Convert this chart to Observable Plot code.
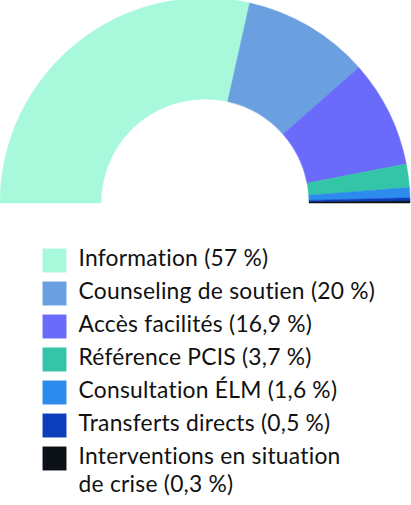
<!DOCTYPE html>
<html>
<head>
<meta charset="utf-8">
<script src="https://cdn.jsdelivr.net/npm/d3@7"></script>
<script src="https://cdn.jsdelivr.net/npm/@observablehq/plot@0.6"></script>
<style>
  html, body { margin: 0; padding: 0; background: #fff; }
  #chart svg { display: block; }
</style>
</head>
<body>
<div id="chart"></div>
<script>
const labels = [
  "Information (57\u202F%)",
  "Counseling de soutien (20\u202F%)",
  "Accès facilités (16,9\u202F%)",
  "Référence PCIS (3,7\u202F%)",
  "Consultation ÉLM (1,6\u202F%)",
  "Transferts directs (0,5\u202F%)",
  "Interventions en situation\nde crise (0,3\u202F%)"
];
const values = [57, 20, 16.9, 3.7, 1.6, 0.5, 0.3];
const colors = ["#a8f9dc", "#6a9fe0", "#6a6bfb", "#34c4a8", "#2c8bec", "#0d3fbd", "#0b1117"];

const data = labels.map((label, i) => ({label, value: values[i], color: colors[i]}));

const W = 411, H = 505;
const cx = 205, cy = 203, rOuter = 205, rInner = 104;

function donut() {
  const pie = d3.pie().value(d => d.value).sort(null)
    .startAngle(-Math.PI / 2).endAngle(Math.PI / 2);
  const arc = d3.arc().innerRadius(rInner).outerRadius(rOuter);
  const g = d3.create("svg:g").attr("transform", `translate(${cx},${cy})`);
  g.selectAll("path").data(pie(data)).join("path")
    .attr("d", arc)
    .attr("fill", d => d.data.color)
    .attr("stroke", d => d.data.color)
    .attr("stroke-width", 0.5);
  return g.node();
}

const chart = Plot.plot({
  width: W,
  height: H,
  margin: 0,
  style: {fontFamily: "Lato, sans-serif", background: "#fff", letterSpacing: "0.25px"},
  x: {axis: null},
  y: {type: "point", domain: labels, range: [259, 459], padding: 0, axis: null},
  color: {type: "ordinal", domain: labels, range: colors},
  marks: [
    donut,
    Plot.dot(data, {
      y: "label", frameAnchor: "left", dx: 54,
      symbol: "square", r: 13.5, fill: "label", stroke: null
    }),
    Plot.text(data, {
      y: "label", text: "label", frameAnchor: "left", dx: 78,
      textAnchor: "start", lineAnchor: "top", dy: -14,
      fontSize: 22.8, lineHeight: 1.23, fill: "#111"
    })
  ]
});

document.getElementById("chart").appendChild(chart);
</script>
</body>
</html>
